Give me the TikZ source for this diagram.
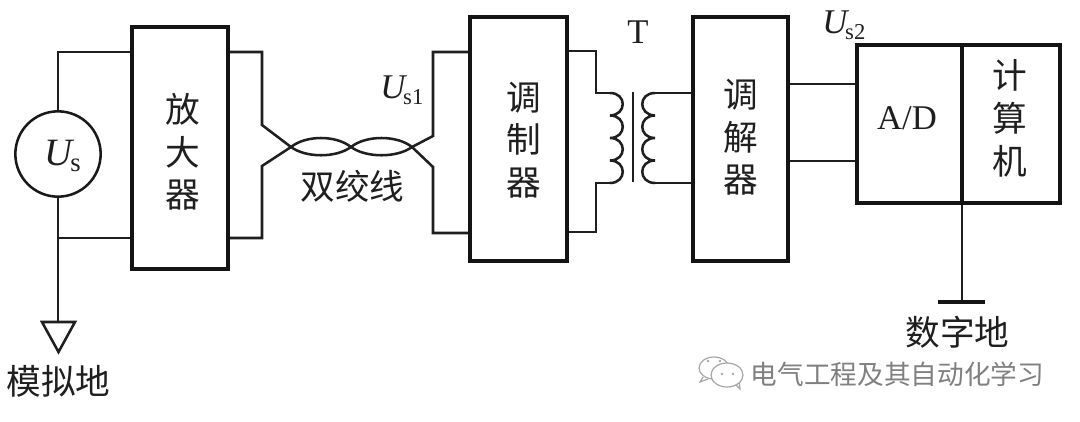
\documentclass[tikz,border=0pt]{standalone}
\usepackage{fontspec}
\setmainfont{Liberation Serif}
\newfontfamily\cjk{Noto Sans CJK SC}
\newcommand{\sym}[2]{\fontsize{26}{30}\selectfont\textit{#1}\kern-3pt\fontsize{17}{20}\selectfont\raisebox{-4.5pt}{#2}}
\newcommand{\bigsym}[2]{\fontsize{29}{32}\selectfont\textit{#1}\kern-3pt\fontsize{20}{22}\selectfont\raisebox{-4.5pt}{#2}}
\begin{document}
\begin{tikzpicture}[x=0.75pt,y=-0.75pt,line join=miter,
  wire/.style={draw=black!88,line width=1.9pt},
  heavy/.style={draw=black!92,line width=2.8pt},
  box/.style={heavy,fill=white,rectangle,inner sep=0pt},
  lab/.style={inner sep=0pt,align=center,text=black!88},
  symlab/.style={inner sep=0pt,text=black!88,anchor=base west},
  cjklab/.style={lab,font=\fontsize{26}{32}\selectfont\cjk},
  latlab/.style={lab,font=\fontsize{26}{30}\selectfont},
  wmark/.style={lab,text=black!50,font=\fontsize{20}{24}\selectfont\cjk},
  wicon/.style={draw=black!35,line width=0.9pt,fill=white}]
\useasboundingbox (0,0) rectangle (1080,421);
\fill[white] (0,0) rectangle (1080,421);

% coordinates
\coordinate (stop) at (58,52);
\coordinate (sbot) at (58,322);
\coordinate (sjoin) at (58,238);
\coordinate (tw1) at (291,147);
\coordinate (tw2) at (351,147);
\coordinate (tw3) at (412,147);

% wires behind boxes
\draw[wire] (sbot) -- (stop) -- (132,52);
\draw[wire] (sjoin) -- (132,238);
\draw[wire] (229,52) -- (262,52) -- (262,125) -- (tw1);
\draw[wire] (229,238) -- (262,238) -- (262,166) -- (tw1);
\draw[wire] (tw1) .. controls (306,135) and (336,135) .. (tw2)
            .. controls (366,135) and (397,135) .. (tw3);
\draw[wire] (tw1) .. controls (306,158) and (336,158) .. (tw2)
            .. controls (366,158) and (397,158) .. (tw3);
\draw[wire] (tw3) -- (433,136) -- (433,52) -- (471,52);
\draw[wire] (tw3) -- (433,167) -- (433,233) -- (471,233);

% primary
\draw[wire] (568,51) -- (596,51) -- (596,93) -- (610,93);
\draw[wire] (568,232) -- (596,232) -- (596,183) -- (610,183);
\draw[wire,line cap=round] (610,93)
  .. controls (627,93) and (627,115) .. (610,115.5)
  .. controls (627,115.5) and (627,138) .. (610,138)
  .. controls (627,138) and (627,160.5) .. (610,160.5)
  .. controls (627,160.5) and (627,183) .. (610,183);
% core
\coordinate (coreT) at (633,92);
\coordinate (coreB) at (633,182);
\draw[wire] (coreT) -- (coreB);
% secondary
\draw[wire] (692,93) -- (655,93);
\draw[wire] (692,183) -- (655,183);
\draw[wire,line cap=round] (655,93)
  .. controls (638,93) and (638,115) .. (655,115.5)
  .. controls (638,115.5) and (638,138) .. (655,138)
  .. controls (638,138) and (638,160.5) .. (655,160.5)
  .. controls (638,160.5) and (638,183) .. (655,183);

\draw[wire] (788,84) -- (857,84);
\draw[wire] (788,161) -- (857,161);

% ground digital
\coordinate (gT) at (962,203);
\coordinate (gB) at (962,302);
\draw[wire] (gT) -- (gB);
\draw[heavy] (938,302) -- (985,302);

% analog ground
\draw[wire,fill=white] (42,322) -- (75,322) -- (58.5,352) -- cycle;

% source
\node[draw=black!90,line width=1.9pt,circle,fill=white,minimum size=64pt,inner sep=0pt] (src) at (58,154) {};
\node[symlab] (srclab) at (44,165) {\bigsym{U}{s}};

% boxes
\node[box,minimum width=72pt,minimum height=181.5pt] (amp) at (180,148) {};
\node[box,minimum width=72.75pt,minimum height=183pt] (mod) at (518.5,139) {};
\node[box,minimum width=71.25pt,minimum height=183pt] (dem) at (740.5,139) {};
\node[box,minimum width=152.25pt,minimum height=118.5pt] (ad) at (958.5,124) {};
\draw[heavy] (962,45) -- (962,203);

% box labels
\node[cjklab] (l1) at (183,152) {放\\大\\器};
\node[cjklab] (l2) at (524,140) {调\\制\\器};
\node[cjklab] (l3) at (741,137.5) {调\\解\\器};
\node[cjklab] (l4) at (1010,118.5) {计\\算\\机};
\node[latlab] (l5) at (907,118) {A/D};

% other labels
\node[cjklab] (l6) at (352.5,186) {双绞线};
\node[cjklab] (l7) at (957.5,332.5) {数字地};
\node[cjklab] (l8) at (58.5,381) {模拟地};
\node[symlab] (l9) at (380,98) {\sym{U}{s1}};
\node[symlab] (l10) at (822,33) {\sym{U}{s2}};
\node[latlab] (l11) at (638,32) {T};

% watermark
\node[wmark] (l12) at (897.5,374) {电气工程及其自动化学习};
\draw[wicon] (703,377) -- (700,382) -- (708,379);
\draw[wicon] (714,368) ellipse [x radius=15,y radius=11];
\draw[wicon] (735,384) -- (740,389) -- (739,381);
\draw[wicon] (727,375) ellipse [x radius=16,y radius=12];
\fill[black!35] (708,361) circle [radius=1.3] (720,361) circle [radius=1.3] (722,374) circle [radius=1.3] (733,374) circle [radius=1.3];
\end{tikzpicture}
\end{document}
